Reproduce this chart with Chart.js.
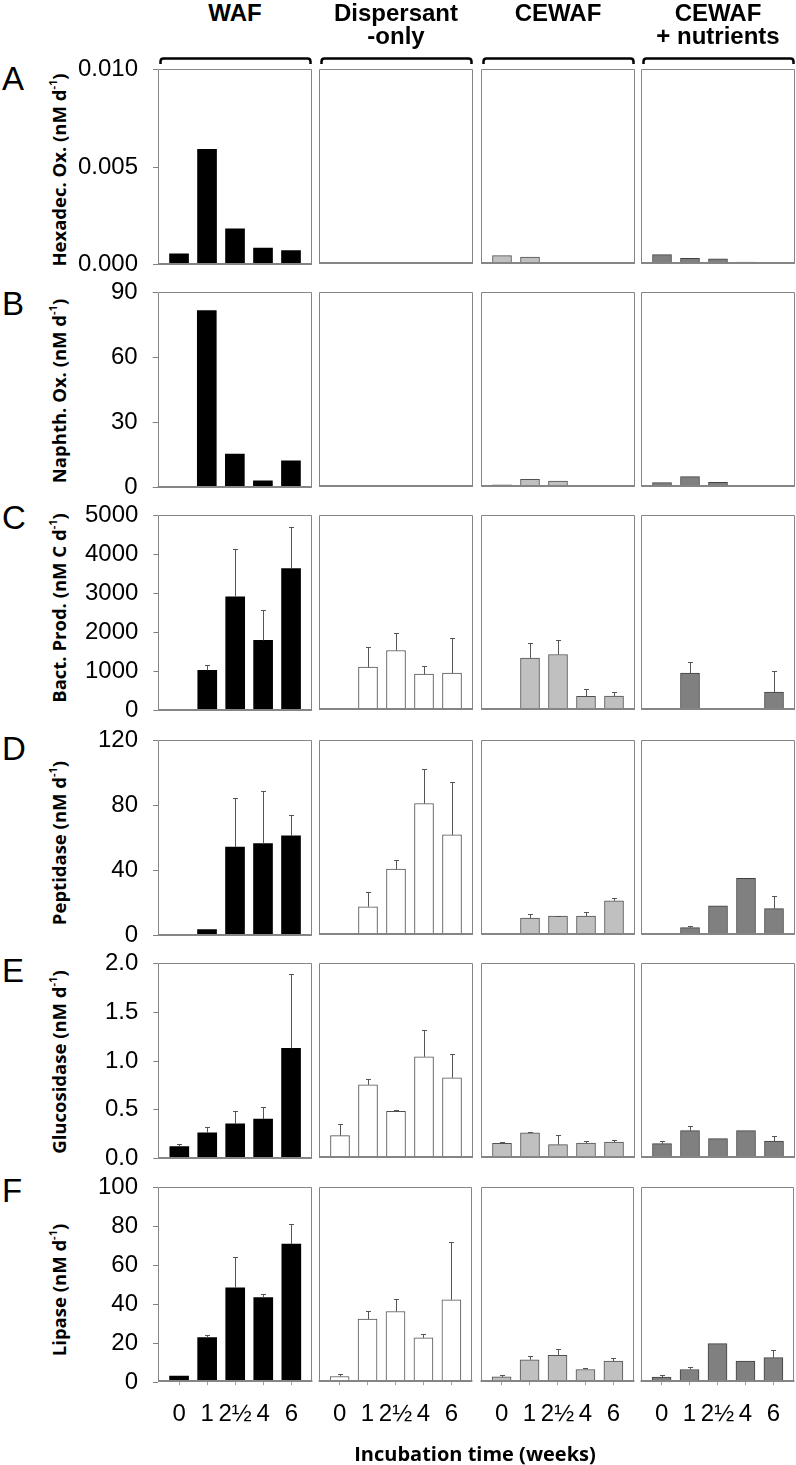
<!DOCTYPE html>
<html><head><meta charset="utf-8">
<script src="https://cdn.jsdelivr.net/npm/chart.js@4.4.1/dist/chart.umd.min.js"></script>
<style>
body{margin:0;width:796px;height:1465px;position:relative;background:#fff;overflow:hidden;font-family:"Liberation Sans",Arial,sans-serif;}
canvas{position:absolute;}
.hdr{position:absolute;top:1px;width:180px;margin-left:-90px;text-align:center;font-weight:bold;font-size:24px;font-family:"Liberation Sans",Arial,sans-serif;line-height:23px;color:#000;}
.lt{position:absolute;left:2px;font-size:33px;font-family:"Liberation Sans",Arial,sans-serif;line-height:33px;margin-top:-16px;color:#000;}
.yt{position:absolute;left:58px;transform:translate(-50%,-50%) rotate(-90deg);white-space:nowrap;font-weight:bold;font-size:18.5px;font-family:"Open Sans",sans-serif;color:#000;}
.yt sup{font-size:11px;position:relative;top:-2px;}
.xt{position:absolute;left:475px;top:1453px;transform:translate(-50%,-50%);white-space:nowrap;font-weight:bold;font-size:20px;font-family:"Open Sans",sans-serif;color:#000;}
svg{position:absolute;left:0;top:0;}
</style></head>
<body>
<svg width="796" height="80" id="br"></svg>
<script>
// ---- categories / tick labels ----
const categories = ['0', '1', '2½', '4', '6'];
const treatments = ['WAF', 'Dispersant<br>-only', 'CEWAF', 'CEWAF<br>+ nutrients'];
const rowLetters = ['A', 'B', 'C', 'D', 'E', 'F'];

const hexadecTicks = [0, 0.005, 0.010];
const hexadecTickLabels = ['0.000', '0.005', '0.010'];
const naphthTicks = [0, 30, 60, 90];
const naphthTickLabels = ['0', '30', '60', '90'];
const bactTicks = [0, 1000, 2000, 3000, 4000, 5000];
const bactTickLabels = ['0', '1000', '2000', '3000', '4000', '5000'];
const peptTicks = [0, 40, 80, 120];
const peptTickLabels = ['0', '40', '80', '120'];
const glucTicks = [0, 0.5, 1.0, 1.5, 2.0];
const glucTickLabels = ['0.0', '0.5', '1.0', '1.5', '2.0'];
const lipTicks = [0, 20, 40, 60, 80, 100];
const lipTickLabels = ['0', '20', '40', '60', '80', '100'];

// ---- values (means) and errors (SE, upward) ----
const hexadecWAF   = [0.00055, 0.00591, 0.00183, 0.00085, 0.00072];
const hexadecDisp  = [0.00001, 0.00001, 0.00001, 0.00001, 0.00001];
const hexadecCEWAF = [0.00043, 0.00036, 0.00007, 0.00002, 0.00001];
const hexadecNutr  = [0.00048, 0.00029, 0.00027, 0.00010, 0.00001];

const naphthWAF   = [0.2, 81.6, 15.5, 3.1, 12.4];
const naphthDisp  = [0.1, 0.1, 0.1, 0.1, 0.1];
const naphthCEWAF = [1.0, 3.5, 2.7, 0.1, 0.3];
const naphthNutr  = [2.0, 4.8, 2.2, 0.3, 0.6];

const bactWAF   = [20, 1031, 2913, 1797, 3637];
const bactWAFErr   = [0, 144, 1227, 775, 1056];
const bactDisp  = [20, 1099, 1525, 920, 945];
const bactDispErr  = [0, 528, 460, 204, 895];
const bactCEWAF = [20, 1329, 1422, 349, 358];
const bactCEWAFErr = [0, 383, 375, 179, 102];
const bactNutr  = [20, 945, 5, 5, 460];
const bactNutrErr  = [0, 290, 0, 0, 545];

const peptWAF   = [0.3, 3.7, 54.4, 56.6, 61.3];
const peptWAFErr   = [0, 0, 30.1, 32.2, 12.8];
const peptDisp  = [0.5, 17.4, 40.5, 80.9, 61.6];
const peptDispErr  = [0.2, 9.2, 5.4, 21.3, 32.6];
const peptCEWAF = [0.3, 10.4, 11.7, 11.7, 21.1];
const peptCEWAFErr = [0, 2.7, 0.2, 2.6, 1.6];
const peptNutr  = [0.5, 4.5, 18.0, 34.8, 16.2];
const peptNutrErr  = [0.7, 1.0, 0, 0, 8.0];

const glucWAF   = [0.122, 0.265, 0.357, 0.405, 1.129];
const glucWAFErr   = [0.028, 0.058, 0.133, 0.122, 0.766];
const glucDisp  = [0.229, 0.751, 0.478, 1.038, 0.823];
const glucDispErr  = [0.116, 0.058, 0.012, 0.276, 0.245];
const glucCEWAF = [0.150, 0.259, 0.137, 0.154, 0.164];
const glucCEWAFErr = [0.014, 0.011, 0.102, 0.020, 0.017];
const glucNutr  = [0.147, 0.280, 0.198, 0.280, 0.174];
const glucNutrErr  = [0.027, 0.051, 0, 0, 0.051];

const lipWAF   = [3.1, 22.9, 48.5, 43.4, 70.9];
const lipWAFErr   = [0, 1.5, 15.6, 1.9, 10.3];
const lipDisp  = [2.9, 32.3, 36.2, 22.7, 42.2];
const lipDispErr  = [1.2, 4.1, 6.5, 1.9, 29.6];
const lipCEWAF = [2.7, 11.5, 13.8, 6.5, 10.8];
const lipCEWAFErr = [0.9, 1.8, 3.1, 0.7, 1.5];
const lipNutr  = [2.6, 6.5, 19.8, 10.8, 12.6];
const lipNutrErr  = [1.0, 1.2, 0, 0, 3.8];

// ---- assemble ----
const rows = [
  {title:'Hexadec. Ox. (nM d<sup>-1</sup>)', max:0.010, ticks:hexadecTicks, labels:hexadecTickLabels,
   vals:[hexadecWAF, hexadecDisp, hexadecCEWAF, hexadecNutr], errs:[null,null,null,null]},
  {title:'Naphth. Ox. (nM d<sup>-1</sup>)', max:90, ticks:naphthTicks, labels:naphthTickLabels,
   vals:[naphthWAF, naphthDisp, naphthCEWAF, naphthNutr], errs:[null,null,null,null]},
  {title:'Bact. Prod. (nM C d<sup>-1</sup>)', max:5000, ticks:bactTicks, labels:bactTickLabels,
   vals:[bactWAF, bactDisp, bactCEWAF, bactNutr], errs:[bactWAFErr, bactDispErr, bactCEWAFErr, bactNutrErr]},
  {title:'Peptidase (nM d<sup>-1</sup>)', max:120, ticks:peptTicks, labels:peptTickLabels,
   vals:[peptWAF, peptDisp, peptCEWAF, peptNutr], errs:[peptWAFErr, peptDispErr, peptCEWAFErr, peptNutrErr]},
  {title:'Glucosidase (nM d<sup>-1</sup>)', max:2.0, ticks:glucTicks, labels:glucTickLabels,
   vals:[glucWAF, glucDisp, glucCEWAF, glucNutr], errs:[glucWAFErr, glucDispErr, glucCEWAFErr, glucNutrErr]},
  {title:'Lipase (nM d<sup>-1</sup>)', max:100, ticks:lipTicks, labels:lipTickLabels,
   vals:[lipWAF, lipDisp, lipCEWAF, lipNutr], errs:[lipWAFErr, lipDispErr, lipCEWAFErr, lipNutrErr]}
];

// layout
const PL = [158, 319, 481, 641];
const PW = 154;
const PT = [69, 292, 515, 740, 963, 1187];
const PH = 195;
const letterY = [78, 303, 517, 748, 970, 1190];
const titleY = [170, 391, 608, 843, 1062, 1290];
const fills = ['#000000', '#ffffff', '#c0c0c0', '#808080'];
const strokes = ['#000000', '#505050', '#505050', '#404040'];
const FONT = 'Liberation Sans, Arial, sans-serif';

const framePlugin = {
  id: 'frameErr',
  afterDatasetsDraw(chart) {
    const ctx = chart.ctx, a = chart.chartArea;
    const ds = chart.data.datasets[0];
    const ys = chart.scales.y;
    ctx.save();
    if (ds.errors) {
      ctx.strokeStyle = '#555555'; ctx.lineWidth = 1;
      chart.getDatasetMeta(0).data.forEach((bar, i) => {
        const e = ds.errors[i];
        if (!e) return;
        const v = ds.data[i].y;
        const yTop = Math.round(ys.getPixelForValue(v + e)) + 0.5;
        const x = Math.round(bar.x) + 0.5;
        ctx.beginPath();
        ctx.moveTo(x, bar.y); ctx.lineTo(x, yTop);
        ctx.moveTo(x - 2.5, yTop); ctx.lineTo(x + 2.5, yTop);
        ctx.stroke();
      });
    }
    ctx.strokeStyle = '#858585'; ctx.lineWidth = 1;
    const L = Math.round(a.left) + 0.5, T = Math.round(a.top) + 0.5;
    const R = Math.round(a.right) - 0.5, B = Math.round(a.bottom) - 0.5;
    ctx.beginPath();
    ctx.moveTo(L, B); ctx.lineTo(L, T); ctx.lineTo(R, T); ctx.lineTo(R, B);
    ctx.stroke();
    ctx.lineWidth = 2;
    ctx.beginPath(); ctx.moveTo(a.left, Math.round(a.bottom) - 1); ctx.lineTo(a.right, Math.round(a.bottom) - 1); ctx.stroke();
    ctx.restore();
  }
};

function place(chart, cv, c, r) {
  for (let k = 0; k < 4; k++) {
    const a = chart.chartArea;
    const w = Math.round(chart.width + (PW - (a.right - a.left)));
    const h = Math.round(chart.height + (PH - (a.bottom - a.top)));
    if (w === chart.width && h === chart.height) break;
    chart.resize(w, h);
  }
  cv.style.left = Math.round(PL[c] - chart.chartArea.left) + 'px';
  cv.style.top = Math.round(PT[r] - chart.chartArea.top) + 'px';
}

const body = document.body;
rows.forEach((row, r) => {
  const last = r === rows.length - 1;
  const lt = document.createElement('div');
  lt.className = 'lt'; lt.textContent = rowLetters[r]; lt.style.top = letterY[r] + 'px';
  body.appendChild(lt);
  const yt = document.createElement('div');
  yt.className = 'yt'; yt.innerHTML = row.title; yt.style.top = titleY[r] + 'px';
  body.appendChild(yt);

  for (let c = 0; c < 4; c++) {
    const cv = document.createElement('canvas');
    const w = (c === 0 ? 85 : 0) + PW, h = 15 + PH + (last ? 50 : 15);
    cv.width = w; cv.height = h;
    cv.style.width = w + 'px'; cv.style.height = h + 'px';
    body.appendChild(cv);
    const vals = row.vals[c];
    const chart = new Chart(cv, {
      type: 'bar',
      data: { datasets: [{
        data: vals.map((v, i) => ({ x: i, y: v })),
        errors: row.errs[c],
        backgroundColor: fills[c],
        borderColor: strokes[c],
        borderWidth: c === 0 ? 0 : 1,
        borderSkipped: 'start',
        barThickness: 19
      }]},
      options: {
        responsive: false, maintainAspectRatio: false, animation: false, devicePixelRatio: 1,
        events: [],
        layout: { padding: 0 },
        plugins: { legend: { display: false }, tooltip: { enabled: false } },
        scales: {
          x: {
            type: 'linear', min: -0.75, max: 4.75, display: last, offset: false,
            afterBuildTicks: s => { s.ticks = categories.map((_, i) => ({ value: i })); },
            ticks: { callback: (v, i) => categories[i], font: { family: FONT, size: 24 }, color: '#000', padding: 15, maxRotation: 0, autoSkip: false },
            grid: { drawOnChartArea: false, drawTicks: true, tickLength: 3, color: '#a0a0a0', offset: false },
            border: { display: false }
          },
          y: {
            min: 0, max: row.max, display: c === 0,
            afterBuildTicks: s => { s.ticks = row.ticks.map(v => ({ value: v })); },
            ticks: { callback: (v, i) => row.labels[i], font: { family: FONT, size: 24 }, color: '#000', padding: 15, autoSkip: false },
            grid: { drawOnChartArea: false, drawTicks: true, tickLength: 5, color: '#808080' },
            border: { display: false }
          }
        }
      },
      plugins: [framePlugin]
    });
    place(chart, cv, c, r);
  }
});

// headers + brackets
const svg = document.getElementById('br');
let paths = '';
treatments.forEach((t, c) => {
  const h = document.createElement('div');
  h.className = 'hdr'; h.innerHTML = t; h.style.left = (PL[c] + PW / 2) + 'px';
  body.appendChild(h);
  const x1 = PL[c] + 2.5, x2 = PL[c] + PW - 1.5;
  paths += `<path d="M${x1} 64 L${x1} 61.5 Q${x1} 58.5 ${x1 + 3} 58.5 L${x2 - 3} 58.5 Q${x2} 58.5 ${x2} 61.5 L${x2} 64" fill="none" stroke="#000" stroke-width="2.5"/>`;
});
svg.innerHTML = paths;

const xt = document.createElement('div');
xt.className = 'xt'; xt.textContent = 'Incubation time (weeks)';
body.appendChild(xt);
</script>
</body></html>
